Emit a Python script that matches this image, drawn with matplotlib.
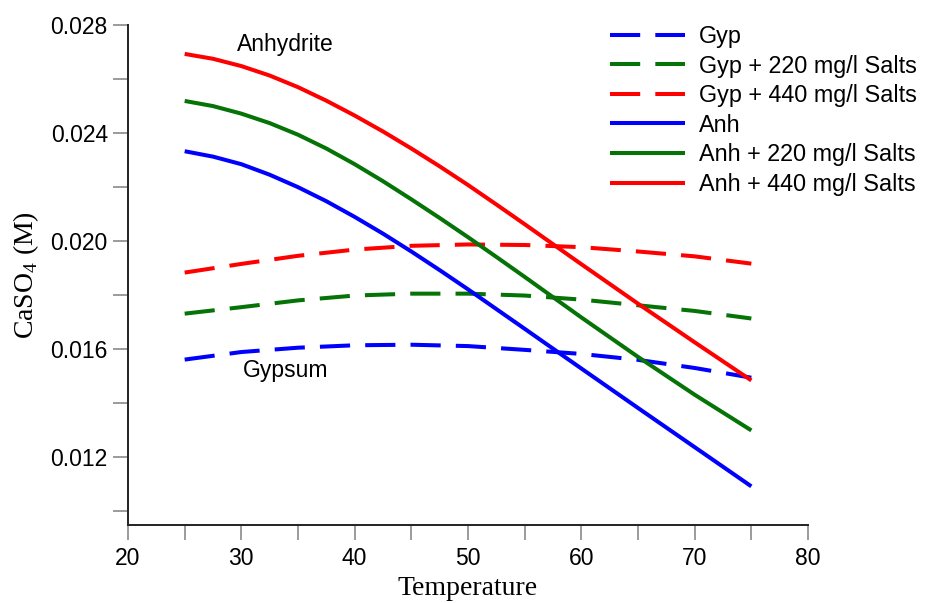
import matplotlib
matplotlib.use("Agg")
import matplotlib.pyplot as plt
from matplotlib.ticker import MultipleLocator, FormatStrFormatter

# temperature (deg C) and CaSO4 solubility (M)
temperature = [25, 30, 35, 40, 45, 50, 55, 60, 65, 70, 75]

gyp = [0.01562, 0.01590, 0.01606, 0.01615, 0.01617, 0.01612,
       0.01598, 0.01583, 0.01561, 0.01531, 0.01495]
gyp_220 = [0.01732, 0.01756, 0.01781, 0.01799, 0.01806, 0.01806,
           0.01799, 0.01784, 0.01763, 0.01742, 0.01714]
gyp_440 = [0.01884, 0.01916, 0.01946, 0.01969, 0.01983, 0.01988,
           0.01986, 0.01978, 0.01962, 0.01944, 0.01917]

# anhydrite curves bend more at low T, so they are read more densely there
temperature_anh = [25, 27.5, 30, 32.5, 35, 37.5, 40, 42.5, 45, 47.5, 50,
                   52.5, 55, 60, 65, 70, 75]

anh = [0.02333, 0.02313, 0.02285, 0.02246, 0.02200, 0.02148, 0.02090,
       0.02028, 0.01962, 0.01893, 0.01822, 0.01749, 0.01676,
       0.01529, 0.01383, 0.01238, 0.01093]
anh_220 = [0.02519, 0.02500, 0.02472, 0.02437, 0.02394, 0.02343, 0.02285,
           0.02222, 0.02155, 0.02086, 0.02015, 0.01942, 0.01868,
           0.01718, 0.01572, 0.01432, 0.01300]
anh_440 = [0.02693, 0.02675, 0.02648, 0.02613, 0.02570, 0.02520, 0.02465,
           0.02406, 0.02343, 0.02277, 0.02208, 0.02136, 0.02063,
           0.01915, 0.01769, 0.01626, 0.01485]

labels = ["Gyp", "Gyp + 220 mg/l Salts", "Gyp + 440 mg/l Salts",
          "Anh", "Anh + 220 mg/l Salts", "Anh + 440 mg/l Salts"]

BLUE = "#0000ff"
GREEN = "#067306"
RED = "#ff0000"

plt.rcParams["font.family"] = ["Liberation Sans", "DejaVu Sans"]
plt.rcParams["mathtext.fontset"] = "custom"
plt.rcParams["mathtext.rm"] = "Liberation Serif"

fig = plt.figure(figsize=(9.27, 6.03), dpi=100)
ax = fig.add_axes([128 / 927, 1 - 525 / 603, 680 / 927, 500 / 603])

lw = 2.9
dash = (7.5, 3.75)
series = [(temperature, gyp, BLUE, True),
          (temperature, gyp_220, GREEN, True),
          (temperature, gyp_440, RED, True),
          (temperature_anh, anh, BLUE, False),
          (temperature_anh, anh_220, GREEN, False),
          (temperature_anh, anh_440, RED, False)]
for (xs, vals, color, dashed), label in zip(series, labels):
    line, = ax.plot(xs, vals, color=color, lw=lw, label=label,
                    solid_capstyle="butt", solid_joinstyle="round")
    if dashed:
        line.set_dashes(dash)
        line.set_dash_capstyle("butt")

ax.text(29.6, 0.02705, "Anhydrite", fontsize=16.5, ha="left", va="baseline")
ax.text(30.1, 0.014975, "Gypsum", fontsize=16.5, ha="left", va="baseline")

ax.set_xlim(20, 80)
ax.set_ylim(0.0095, 0.028)
ax.xaxis.set_major_locator(MultipleLocator(10))
ax.xaxis.set_minor_locator(MultipleLocator(5))
ax.yaxis.set_major_locator(MultipleLocator(0.004))
ax.yaxis.set_minor_locator(MultipleLocator(0.002))
ax.yaxis.set_major_formatter(FormatStrFormatter("%.3f"))

for side in ("top", "right"):
    ax.spines[side].set_visible(False)
for side in ("left", "bottom"):
    ax.spines[side].set_linewidth(1.4)
    ax.spines[side].set_color("#222222")

ax.tick_params(which="both", direction="out", length=11, width=1.1,
               color="#808080", labelsize=16.5)
ax.tick_params(axis="y", pad=3.5)
ax.tick_params(axis="x", pad=5)

ax.set_xlabel("Temperature", family="Liberation Serif", fontsize=20, labelpad=4)
ax.set_ylabel("CaSO$_4$ (M)", family="Liberation Serif", fontsize=20, labelpad=7)

ax.legend(loc="upper left", bbox_to_anchor=(610 / 927, 1 - 25 / 603),
          bbox_transform=fig.transFigure, frameon=False, fontsize=16.8,
          handlelength=3.22, handletextpad=0.6, labelspacing=0.28,
          borderpad=0, borderaxespad=0)

fig.savefig("out.png", dpi=100)
